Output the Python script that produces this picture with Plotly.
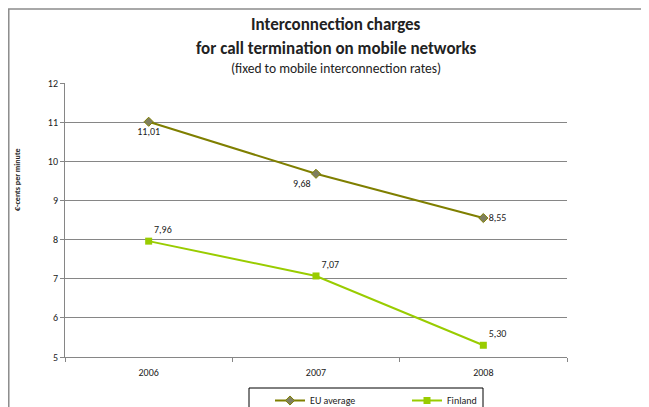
import plotly.graph_objects as go

years = ["2006", "2007", "2008"]
eu_average = [11.01, 9.68, 8.55]
finland = [7.96, 7.07, 5.30]

font = "Carlito, Lato, 'Liberation Sans', sans-serif"

def etiquetas(valores):
    return [f"{v:.2f}".replace(".", ",") for v in valores]

# la pagina tiene 8px de margen en el body, la figura empieza en (8, 8)
fig = go.Figure()
fig.add_trace(go.Scatter(
    x=years, y=eu_average, name="EU average", mode="lines+markers+text",
    line=dict(color="#7f7f00", width=2),
    marker=dict(symbol="diamond", size=7, color="#7f7f5f", line=dict(color="#7f7f00", width=1)),
    text=etiquetas(eu_average), textposition=["bottom center", "bottom left", "middle right"],
    textfont=dict(size=10, color="#222222"),
))
fig.add_trace(go.Scatter(
    x=years, y=finland, name="Finland", mode="lines+markers+text",
    line=dict(color="#99cc00", width=2),
    marker=dict(symbol="square", size=7, color="#99cc00"),
    text=etiquetas(finland), textposition=["top right", "top right", "top right"],
    textfont=dict(size=10, color="#222222"),
))

fig.update_layout(
    width=641, height=399,
    margin=dict(l=57, r=82, t=75, b=50, autoexpand=False),
    paper_bgcolor="white", plot_bgcolor="white",
    font=dict(family=font, color="#222222"),
    showlegend=True,
    legend=dict(orientation="h", x=(270 - 65) / 502, y=(357 - 386) / 274, xanchor="left", yanchor="top",
                borderwidth=0, bgcolor="rgba(0,0,0,0)", font=dict(size=10),
                entrywidth=92, entrywidthmode="pixels", itemwidth=30),
    annotations=[
        dict(text="<b>Interconnection charges</b>", x=336, y=25, xref="paper", yref="paper",
             showarrow=False, font=dict(size=17), xanchor="center", yanchor="middle"),
        dict(text="<b>for call termination on mobile networks</b>", x=336, y=48, xref="paper",
             yref="paper", showarrow=False, font=dict(size=17), xanchor="center", yanchor="middle"),
        dict(text="(fixed to mobile interconnection rates)", x=336, y=68, xref="paper",
             yref="paper", showarrow=False, font=dict(size=13.5), xanchor="center", yanchor="middle"),
        dict(text="<b>€-cents per minute</b>", textangle=-90, x=17, y=180, xref="paper",
             yref="paper", showarrow=False, font=dict(size=8), xanchor="center", yanchor="middle"),
    ],
    shapes=[
        dict(type="rect", xref="paper", yref="paper", x0=-0.112, x1=1.3, y0=-0.5, y1=1.27,
             line=dict(color="#8c8c8c", width=1.5)),
        # caja de la leyenda
        dict(type="rect", xref="paper", yref="paper", x0=(249 - 65) / 502, x1=(483 - 65) / 502,
             y0=-0.4, y1=(357 - 388) / 274, line=dict(color="#000000", width=1)),
    ],
)

# posiciones de pantalla (pixeles) a coordenadas paper
for a in fig.layout.annotations:
    a.y = (357 - a.y) / 274
    a.x = (a.x - 65) / 502

fig.update_yaxes(range=[5, 12], dtick=1, showgrid=True, gridcolor="#868686", gridwidth=1,
                 showline=True, linecolor="#868686", ticks="outside", ticklen=4, tickcolor="#868686",
                 tickfont=dict(size=10), zeroline=False)
fig.update_xaxes(range=[-0.5, 2.5], showline=True, linecolor="#868686", ticks="outside", ticklen=4,
                 tickcolor="#868686", tickson="boundaries", tickfont=dict(size=10), showgrid=False,
                 ticklabelstandoff=6)

fig.write_html("out.html")
